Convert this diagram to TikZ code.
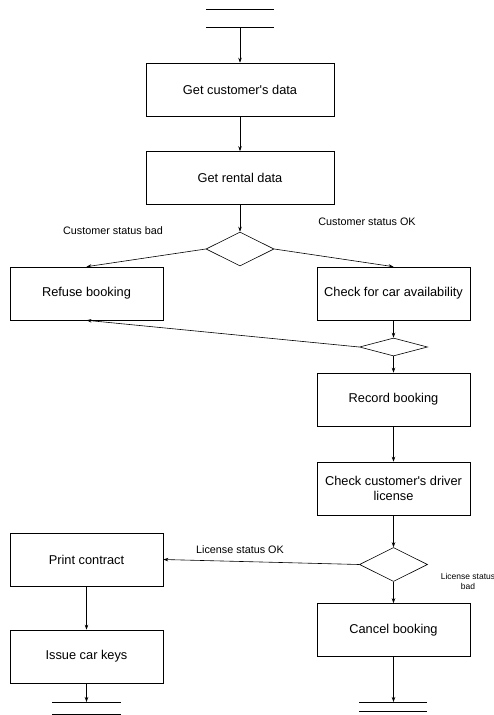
\documentclass[tikz,border=0pt]{standalone}
\usepackage{fontspec}
\setmainfont{Liberation Sans}
\usetikzlibrary{arrows.meta,shapes.geometric}
\begin{document}
\begin{tikzpicture}[x=1pt,y=-1pt,
  every node/.style={font=\fontsize{12.8}{14.5}\selectfont},
  proc/.style={draw, line width=0.6pt, minimum width=153pt, minimum height=53pt, inner sep=2pt, align=center},
  wideproc/.style={proc, minimum width=188pt},
  dec/.style={draw, line width=0.6pt, diamond, aspect=2, minimum width=68pt, minimum height=34pt, inner sep=0pt},
  flatdec/.style={draw, line width=0.6pt, diamond, aspect=3.8, minimum width=68pt, minimum height=18pt, inner sep=0pt},
  flow/.style={draw, line width=0.6pt, -{Stealth[length=5pt,width=3.5pt]}},
  store/.style={line width=0.6pt},
  lbl/.style={font=\fontsize{10.8}{12}\selectfont, inner sep=0pt},
  small/.style={font=\fontsize{8.5}{10}\selectfont, inner sep=0pt, align=center}]
\useasboundingbox (0,0) rectangle (494,715);
% start store
\coordinate (s1a) at (206,9); \coordinate (s1b) at (274,9);
\coordinate (s2a) at (206,27); \coordinate (s2b) at (274,27);
\coordinate (stop) at (240,27);
\draw[store] (s1a) -- (s1b);
\draw[store] (s2a) -- (s2b);
\node[wideproc] (cust) at (240,89.5) {Get customer\textquotesingle s data};
\node[wideproc] (rent) at (240,178) {Get rental data};
\node[dec] (d1) at (240,249) {};
\node[proc] (refuse) at (86.5,293.5) {Refuse booking};
\node[proc] (avail) at (393.5,293.5) {Check for car availability};
\node[flatdec] (d2) at (393.5,347) {};
\node[proc] (record) at (393.5,399.5) {Record booking};
\node[proc] (license) at (393.5,488.5) {Check customer\textquotesingle s driver\\license};
\node[dec] (d3) at (393.5,564.5) {};
\node[proc] (print) at (86.5,559.5) {Print contract};
\node[proc] (keys) at (86.5,656.5) {Issue car keys};
\node[proc] (cancel) at (393.5,630) {Cancel booking};
% connectors
\draw[flow] (stop) -- (cust.north);
\draw[flow] (cust) -- (rent);
\draw[flow] (rent) -- (d1.north);
\draw[flow] (d1.west) -- (refuse.north);
\draw[flow] (d1.east) -- (avail.north);
\draw[flow] (avail) -- (d2.north);
\draw[flow] (d2.west) -- (refuse.south);
\draw[flow] (d2.south) -- (record.north);
\draw[flow] (record) -- (license);
\draw[flow] (license) -- (d3.north);
\draw[flow] (d3.west) -- (print.east);
\draw[flow] (d3.south) -- (cancel.north);
\draw[flow] (print) -- (keys);
% end stores
\coordinate (e1) at (86.5,702);
\draw[flow] (keys.south) -- (e1);
\coordinate (e1a) at (52,702); \coordinate (e1b) at (121,702);
\coordinate (e1c) at (52,714); \coordinate (e1d) at (121,714);
\draw[store] (e1a) -- (e1b);
\draw[store] (e1c) -- (e1d);
\coordinate (e2) at (393.5,702);
\draw[flow] (cancel.south) -- (e2);
\coordinate (e2a) at (359,702); \coordinate (e2b) at (427,702);
\coordinate (e2c) at (359,711); \coordinate (e2d) at (427,711);
\draw[store] (e2a) -- (e2b);
\draw[store] (e2c) -- (e2d);
% labels
\node[lbl] (lb1) at (113,231) {Customer status bad};
\node[lbl] (lb2) at (367,222) {Customer status OK};
\node[lbl] (lb3) at (240,550) {License status OK};
\node[small] (lb4) at (468,581) {License status\\bad};
\end{tikzpicture}
\end{document}
